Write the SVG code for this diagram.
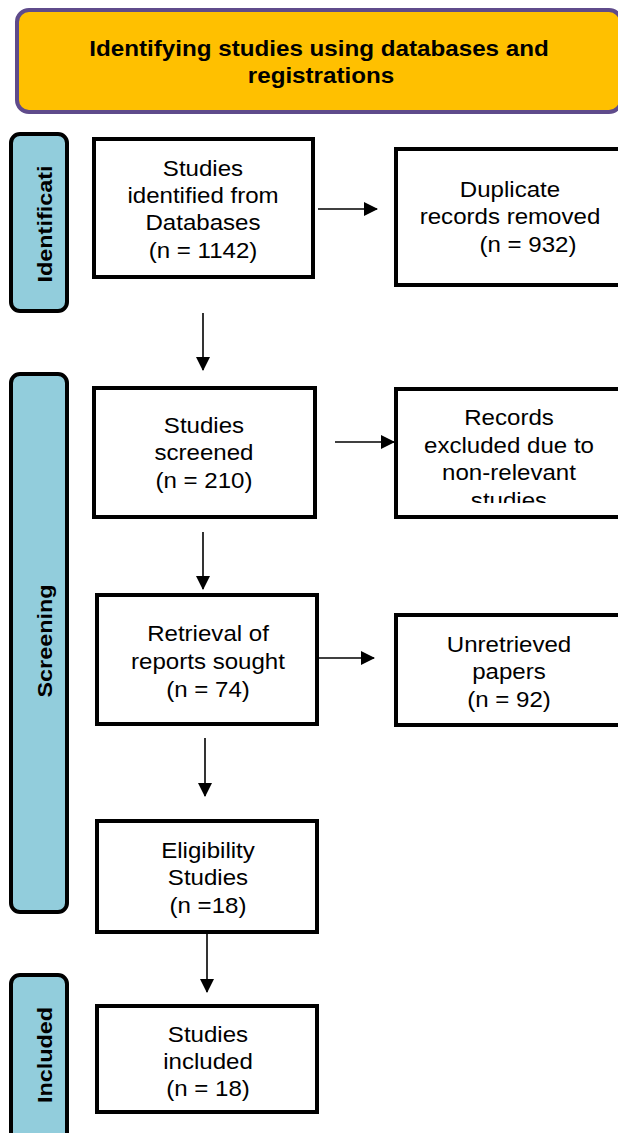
<svg xmlns="http://www.w3.org/2000/svg" width="618" height="1133" viewBox="0 0 618 1133">
<defs>
<style>
.box{fill:#fff;stroke:#000;stroke-width:4}
.side{fill:#92CDDC;stroke:#000;stroke-width:4}
text{font-family:'Liberation Sans',Arimo,Arial,sans-serif;fill:#000;text-anchor:middle}
.t{font-size:22.5px}
.s{font-size:20px;font-weight:bold}
.h{font-size:22px;font-weight:bold}
.c{stroke:#000;stroke-width:1.6;fill:none}
</style>
<marker id="ahb" markerWidth="14" markerHeight="14" refX="13" refY="7" orient="auto" markerUnits="userSpaceOnUse" viewBox="0 0 14 14">
<path d="M0,0 L14,7 L0,14 z" fill="#000"/>
</marker>
<clipPath id="clipRec"><rect x="395" y="390" width="223" height="113"/></clipPath>
</defs>
<rect width="618" height="1133" fill="#fff"/>

<g id="header">
<rect x="17" y="10" width="604" height="102" rx="12" fill="#FFC000" stroke="#5F4B8B" stroke-width="4"/>
<text class="h" transform="translate(319,56) scale(1.1,1)">Identifying studies using databases and</text>
<text class="h" transform="translate(321,83) scale(1.1,1)">registrations</text>
</g>

<g id="side-identification">
<rect class="side" x="11" y="134" width="56" height="177" rx="9"/>
<text class="s" transform="translate(52,224) rotate(-90) scale(1.17,1)">Identificati</text>
</g>
<g id="side-screening">
<rect class="side" x="11" y="374" width="56" height="538" rx="9"/>
<text class="s" transform="translate(52,641) rotate(-90) scale(1.17,1)">Screening</text>
</g>
<g id="side-included">
<rect class="side" x="11" y="975" width="56" height="170" rx="9"/>
<text class="s" transform="translate(52,1055) rotate(-90) scale(1.17,1)">Included</text>
</g>

<g id="n-identified">
<rect class="box" x="94" y="139" width="219" height="138"/>
<text class="t" transform="translate(203,176) scale(1.07,1)">Studies</text>
<text class="t" transform="translate(203,203) scale(1.07,1)">identified from</text>
<text class="t" transform="translate(203,230) scale(1.07,1)">Databases</text>
<text class="t" transform="translate(203,258) scale(1.07,1)">(n = 1142)</text>
</g>
<g id="n-duplicate">
<rect class="box" x="396" y="149" width="226" height="136"/>
<text class="t" transform="translate(510,197) scale(1.07,1)">Duplicate</text>
<text class="t" transform="translate(510,224) scale(1.07,1)">records removed</text>
<text class="t" transform="translate(528,252) scale(1.07,1)">(n = 932)</text>
</g>
<g id="n-screened">
<rect class="box" x="94" y="388" width="221" height="129"/>
<text class="t" transform="translate(204,433) scale(1.07,1)">Studies</text>
<text class="t" transform="translate(204,460) scale(1.07,1)">screened</text>
<text class="t" transform="translate(204,488) scale(1.07,1)">(n = 210)</text>
</g>
<g id="n-excluded">
<rect class="box" x="396" y="389" width="226" height="128"/>
<g clip-path="url(#clipRec)">
<text class="t" transform="translate(509,425) scale(1.07,1)">Records</text>
<text class="t" transform="translate(509,453) scale(1.07,1)">excluded due to</text>
<text class="t" transform="translate(509,480) scale(1.07,1)">non-relevant</text>
<text class="t" transform="translate(509,508) scale(1.07,1)">studies</text>
</g>
</g>
<g id="n-retrieval">
<rect class="box" x="97" y="595" width="220" height="129"/>
<text class="t" transform="translate(208,641) scale(1.07,1)">Retrieval of</text>
<text class="t" transform="translate(208,669) scale(1.07,1)">reports sought</text>
<text class="t" transform="translate(208,697) scale(1.07,1)">(n = 74)</text>
</g>
<g id="n-unretrieved">
<rect class="box" x="396" y="615" width="226" height="110"/>
<text class="t" transform="translate(509,652) scale(1.07,1)">Unretrieved</text>
<text class="t" transform="translate(509,679) scale(1.07,1)">papers</text>
<text class="t" transform="translate(509,707) scale(1.07,1)">(n = 92)</text>
</g>
<g id="n-eligibility">
<rect class="box" x="97" y="821" width="220" height="111"/>
<text class="t" transform="translate(208,858) scale(1.07,1)">Eligibility</text>
<text class="t" transform="translate(208,885) scale(1.07,1)">Studies</text>
<text class="t" transform="translate(208,913) scale(1.07,1)">(n =18)</text>
</g>
<g id="n-included">
<rect class="box" x="97" y="1006" width="220" height="106"/>
<text class="t" transform="translate(208,1042) scale(1.07,1)">Studies</text>
<text class="t" transform="translate(208,1069) scale(1.07,1)">included</text>
<text class="t" transform="translate(208,1096) scale(1.07,1)">(n = 18)</text>
</g>

<g id="connectors">
<line class="c" x1="318" y1="209" x2="377" y2="209" marker-end="url(#ahb)"/>
<line class="c" x1="203" y1="313" x2="203" y2="370" marker-end="url(#ahb)"/>
<line class="c" x1="335" y1="442" x2="394" y2="442" marker-end="url(#ahb)"/>
<line class="c" x1="203" y1="532" x2="203" y2="589" marker-end="url(#ahb)"/>
<line class="c" x1="318" y1="658" x2="374" y2="658" marker-end="url(#ahb)"/>
<line class="c" x1="205" y1="738" x2="205" y2="796" marker-end="url(#ahb)"/>
<line class="c" x1="207" y1="932" x2="207" y2="992" marker-end="url(#ahb)"/>
</g>
</svg>
